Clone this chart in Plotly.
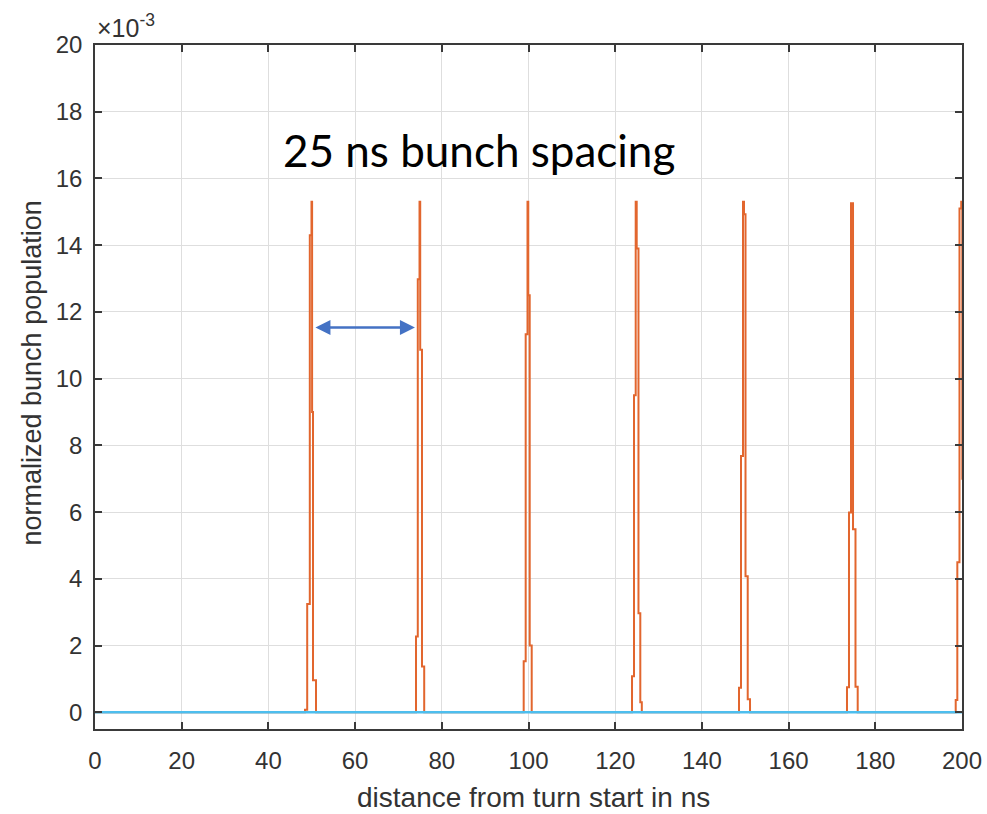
import plotly.graph_objects as go

# ---- data (y in units of 1e-3) ----
bunch_edges_ns = [
    [48.44, 48.95, 49.55, 49.94, 50.08, 50.29, 50.98],
    [74.05, 74.46, 74.86, 75.02, 75.43, 75.94],
    [98.89, 99.35, 99.77, 99.95, 100.28, 100.74],
    [123.88, 124.34, 124.73, 124.96, 125.37, 125.79, 126.14],
    [148.56, 149.02, 149.48, 149.71, 150.06, 150.57, 151.10],
    [173.47, 173.93, 174.39, 174.86, 175.43, 175.94],
    [198.55, 198.92, 199.42, 199.82, 200.07, 200.35, 200.69],
]
bunch_values = [
    [0.08, 3.25, 14.3, 15.3, 9.0, 0.96],
    [2.27, 12.98, 15.3, 10.87, 1.37],
    [1.53, 11.33, 15.3, 12.5, 2.0],
    [1.08, 9.5, 15.3, 13.9, 2.97, 0.3],
    [0.74, 7.68, 15.3, 14.93, 4.08, 0.39],
    [0.75, 5.99, 15.26, 5.49, 0.77],
    [0.37, 4.5, 15.1, 15.3, 7.0, 6.6],
]
baseline_x = [0, 200]
baseline_y = [0, 0]
x_ticks = list(range(0, 201, 20))
y_ticks = list(range(0, 21, 2))

# build step series
xs, ys = [0.0], [0.0]
for edges, vals in zip(bunch_edges_ns, bunch_values):
    for e, v in zip(edges, vals):
        xs.append(e)
        ys.append(v)
    xs.append(edges[len(vals)])
    ys.append(0.0)

fig = go.Figure()
fig.add_trace(go.Scatter(x=xs, y=ys, mode="lines", line=dict(color="#E2662E", width=2, shape="hv"),
                         showlegend=False, hoverinfo="skip"))
fig.add_trace(go.Scatter(x=baseline_x, y=baseline_y, mode="lines", line=dict(color="#4DBEEE", width=2.5),
                         showlegend=False, hoverinfo="skip"))

W, H, L, R, T, B = 987, 814, 95, 25, 45, 85
pw, ph = W - L - R, H - T - B

FONT = "Liberation Sans, Arial"
axis_font = dict(family=FONT, size=24, color="#333333")
common = dict(showline=True, linecolor="#3a3a3a", linewidth=1.5, mirror="ticks",
              ticks="inside", ticklen=7, tickwidth=1.5, tickcolor="#3a3a3a",
              showgrid=True, gridcolor="#dedede", gridwidth=1, zeroline=False,
              tickfont=axis_font, automargin=False)
fig.update_xaxes(range=[0, 200], tickvals=x_ticks, ticktext=[str(v) for v in x_ticks],
                 ticklabelstandoff=9, **common)
fig.update_yaxes(range=[-0.5, 20], tickvals=y_ticks, ticktext=[str(v) for v in y_ticks],
                 ticklabelstandoff=6, **common)

# axis titles as annotations (positioned like the reference)
fig.add_annotation(x=(533 - L) / pw, y=(H - 797 - B) / ph, xref="paper", yref="paper",
                   xanchor="center", yanchor="middle", text="distance from turn start in ns",
                   showarrow=False, font=dict(family=FONT, size=28, color="#333333"))
fig.add_annotation(x=(31 - L) / pw, y=(H - 373.5 - B) / ph, xref="paper", yref="paper",
                   text="normalized bunch population", textangle=-90, showarrow=False,
                   xanchor="center", yanchor="middle",
                   font=dict(family=FONT, size=27, color="#333333"))

fig.add_annotation(x=0, y=1, xref="paper", yref="paper", xanchor="left", yanchor="bottom",
                   text="×10<sup>-3</sup>", showarrow=False, yshift=1,
                   font=dict(family=FONT, size=25, color="#333333"))
fig.add_annotation(x=88.5, y=16.85, xref="x", yref="y", text="25 ns bunch spacing", showarrow=False,
                   font=dict(family="Lato", size=44, color="#000000"))
fig.add_annotation(x=73.8, y=11.53, ax=50.5, ay=11.53, xref="x", yref="y", axref="x", ayref="y",
                   text="", showarrow=True, arrowside="end+start", arrowhead=2, startarrowhead=2,
                   arrowsize=1.2, startarrowsize=1.2, arrowwidth=2.5, arrowcolor="#4472C4",
                   standoff=0, startstandoff=0)

fig.update_layout(width=W, height=H, margin=dict(l=L, r=R, t=T, b=B),
                  plot_bgcolor="white", paper_bgcolor="white")
fig.write_html("out.html")
